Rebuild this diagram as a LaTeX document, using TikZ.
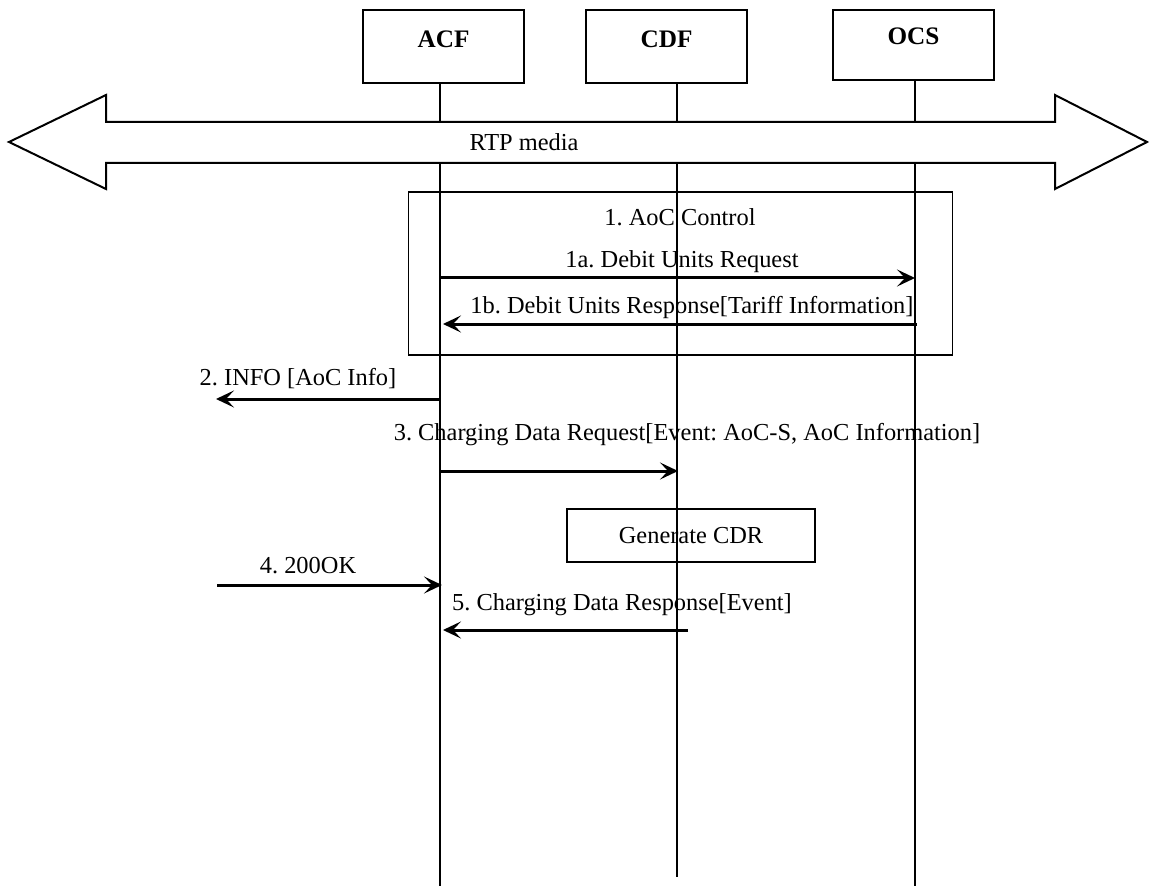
\documentclass[tikz,border=0pt]{standalone}
\usepackage{fontspec}
\setmainfont{Liberation Serif}
\usetikzlibrary{arrows.meta}
\frenchspacing

\begin{document}
\begin{tikzpicture}
  [x=0.5pt,y=-0.5pt,line join=miter,
   every node/.style={font=\fontsize{12.2}{14}\selectfont,inner sep=0pt},
   entity/.style={draw,line width=0.8pt,minimum width=80.5pt,minimum height=36.5pt,
                  font=\fontsize{12.6}{14}\selectfont\bfseries,text depth=7pt},
   life/.style={line width=0.75pt},
   msg/.style={line width=1.5pt,-{Stealth[length=9pt,width=8.5pt,inset=4pt]}},
   frame/.style={draw,line width=0.75pt}]
  \useasboundingbox (0,0) rectangle (1149,887);

  % entities
  \node[entity] (acf) at (443.5,46.5) {ACF};
  \node[entity] (cdf) at (666.5,46.5) {CDF};
  \node[entity,minimum height=35pt,text depth=9pt] (ocs) at (913.5,45) {OCS};

  % lifeline ends
  \coordinate (lacf) at (440,886);
  \coordinate (lcdf) at (677,877);
  \coordinate (locs) at (915,886);
  \foreach \ent/\lend in {acf/lacf,cdf/lcdf,ocs/locs}
    \draw[life] (\ent.south -| \lend) -- (\lend);

  % media band
  \draw[line width=1pt,fill=white] (9,142) -- (106,95) -- (106,122) -- (1055,122)
    -- (1055,95) -- (1147,142) -- (1055,189) -- (1055,163) -- (106,163)
    -- (106,189) -- cycle;
  \node (rtp) at (524,142) {RTP media};

  % AoC control frame
  \node[frame,minimum width=272pt,minimum height=81.5pt] (aoc) at (680.5,273.5) {};
  \node (aoct) at (680,217) {1. AoC Control};

  % message ends
  \coordinate (s1a) at (440,278); \coordinate (e1a) at (915,278);
  \coordinate (s1b) at (917,324); \coordinate (e1b) at (443,324);
  \coordinate (s2) at (440,399);  \coordinate (e2) at (216,399);
  \coordinate (s3) at (440,471);  \coordinate (e3) at (678,471);
  \coordinate (s4) at (217,585);  \coordinate (e4) at (442,585);
  \coordinate (s5) at (688,630);  \coordinate (e5) at (443,630);

  \foreach \from/\to in {s1a/e1a,s1b/e1b,s2/e2,s3/e3,s4/e4,s5/e5}
    \draw[msg] (\from) -- (\to);

  \node (t1a) at (682,262) {1a. Debit Units Request};
  \node (t1b) at (692,308) {1b. Debit Units Response[Tariff Information]};
  \node (t2) at (298,379) {2. INFO [AoC Info]};
  \node (t3) at (687,435) {3. Charging Data Request[Event: AoC-S, AoC Information]};
  \node (t4) at (308,566) {4. 200OK};
  \node (t5) at (622,605) {5. Charging Data Response[Event]};

  % CDR generation
  \node[frame,minimum width=124pt,minimum height=26.5pt] (gen) at (691,535.5) {Generate CDR};
\end{tikzpicture}
\end{document}
